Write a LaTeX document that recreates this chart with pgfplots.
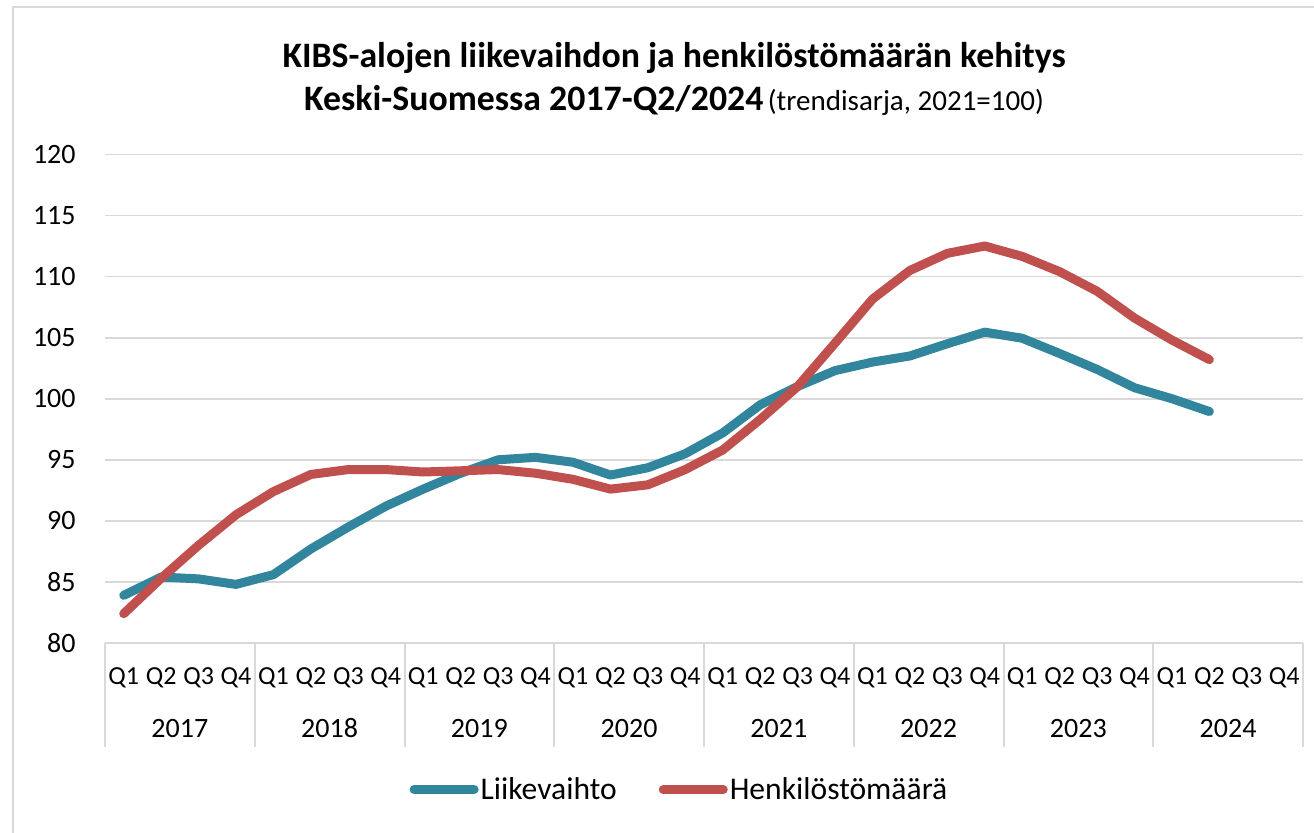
\documentclass[border=0pt]{standalone}
\usepackage{fontspec}
\setmainfont{Carlito}
\usepackage{pgfplots}
\pgfplotsset{compat=1.18}
\definecolor{teal1}{HTML}{31859C}
\definecolor{red1}{HTML}{C0504D}
\definecolor{grid1}{HTML}{D9D9D9}
\begin{document}
\begin{tikzpicture}
\useasboundingbox (0,0) rectangle (657pt,-416pt);
\draw[grid1, line width=1pt] (6.5pt,-420pt) -- (6.5pt,-3.5pt) -- (660pt,-3.5pt);
\node[font=\fontsize{17.9}{20}\selectfont\bfseries, align=center] at (337pt,-29pt) {KIBS-alojen liikevaihdon ja henkilöstömäärän kehitys};
\node[align=center] at (337pt,-50pt) {{\fontsize{17.9}{20}\selectfont\bfseries Keski-Suomessa 2017-Q2/2024} {\fontsize{14.5}{16}\selectfont (trendisarja, 2021=100)}};
\begin{axis}[
  at={(52.5pt,-321.5pt)}, anchor=south west,
  scale only axis, width=599pt, height=244.3pt,
  xmin=-0.5, xmax=31.5, ymin=80, ymax=120,
  ytick={80,85,...,120},
  xtick={0,...,31},
  xticklabels={Q1,Q2,Q3,Q4,Q1,Q2,Q3,Q4,Q1,Q2,Q3,Q4,Q1,Q2,Q3,Q4,Q1,Q2,Q3,Q4,Q1,Q2,Q3,Q4,Q1,Q2,Q3,Q4,Q1,Q2,Q3,Q4},
  /pgf/number format/assume math mode=true,
  axis y line*=left, y axis line style={draw=none},
  axis x line*=bottom, x axis line style={grid1, line width=1pt, -},
  major tick length=0pt,
  tick style={draw=none},
  ymajorgrids, grid style={grid1, line width=0.9pt},
  yticklabel style={font=\fontsize{14}{16}\selectfont, inner sep=0pt, anchor=east, xshift=-14.5pt},
  xticklabel style={font=\fontsize{13}{15}\selectfont, inner sep=0pt, anchor=center, yshift=-17.5pt},
  clip=false,
  legend columns=2,
  legend style={draw=none, at={(0.4795,-0.30)}, anchor=center, font=\fontsize{15.8}{18}\selectfont,
    nodes={inner sep=1pt},
    /tikz/every even column/.append style={column sep=20pt}},
  legend image code/.code={\draw[#1, line cap=round] (0pt,0pt) -- (30pt,0pt);},
]
\addplot[teal1, line width=4.5pt, line join=round, line cap=round] coordinates {
(0,83.9)(1,85.4)(2,85.25)(3,84.8)(4,85.6)(5,87.7)(6,89.5)(7,91.2)
(8,92.6)(9,93.9)(10,95.0)(11,95.2)(12,94.8)(13,93.75)(14,94.35)(15,95.5)
(16,97.2)(17,99.5)(18,101.0)(19,102.3)(20,103.0)(21,103.5)(22,104.5)(23,105.45)
(24,104.95)(25,103.7)(26,102.4)(27,100.9)(28,100.0)(29,98.95)};
\addlegendentry{Liikevaihto}
\addplot[red1, line width=4.5pt, line join=round, line cap=round] coordinates {
(0,82.4)(1,85.3)(2,88.0)(3,90.5)(4,92.4)(5,93.8)(6,94.2)(7,94.2)
(8,94.0)(9,94.1)(10,94.2)(11,93.9)(12,93.4)(13,92.6)(14,92.95)(15,94.2)
(16,95.8)(17,98.3)(18,101.0)(19,104.55)(20,108.15)(21,110.5)(22,111.9)(23,112.5)
(24,111.65)(25,110.4)(26,108.8)(27,106.6)(28,104.8)(29,103.2)};
\addlegendentry{Henkilöstömäärä}
\foreach \k in {0,...,8} {
  \edef\temp{\noexpand\draw[grid1, line width=1pt] (axis cs:{4*\k-0.5},80) -- ([yshift=-52pt]axis cs:{4*\k-0.5},80);}
  \temp
}
\foreach \k/\yr in {0/2017,1/2018,2/2019,3/2020,4/2021,5/2022,6/2023,7/2024} {
  \edef\temp{\noexpand\node[font=\noexpand\fontsize{14}{16}\noexpand\selectfont, inner sep=0pt] at (axis cs:{4*\k+1.5},80) [yshift=-42.5pt] {\yr};}
  \temp
}
\end{axis}
\end{tikzpicture}
\end{document}
